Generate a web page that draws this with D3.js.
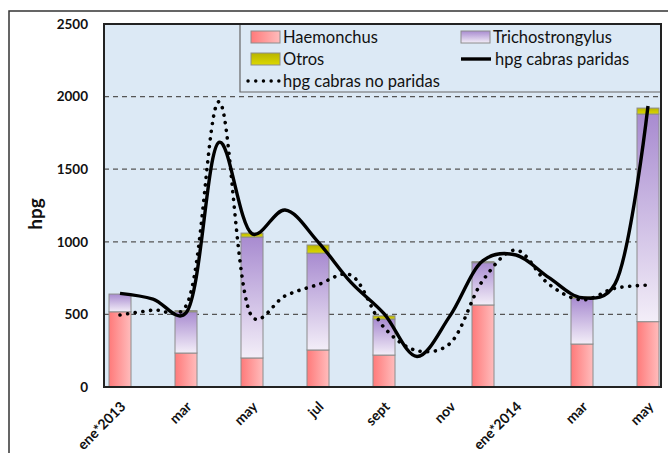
<!DOCTYPE html>
<html><head><meta charset="utf-8">
<script src="https://cdn.jsdelivr.net/npm/d3@7"></script>
<style>body{margin:0;background:#fff}svg{display:block}</style>
</head><body><svg id="c" width="668" height="453"></svg>
<script>
// ---- data ----
const slots = d3.range(17);                 // monthly positions on the category axis
const labelSlots = [0,2,4,6,8,10,12,14,16];
const xLabels = ["ene*2013","mar","may","jul","sept","nov","ene*2014","mar","may"];
const barSlots = [0,2,4,6,8,11,14,16];
const haemonchus = [518,234,200,255,220,565,296,450];
const trichostrongylus = [122,284,833,667,248,291,317,1430];
const otros = [0,8,27,56,22,7,9,41];
const paridas = [645,606,510,1685,1055,1219,1000,720,505,210,490,870,909,753,615,710,1935];
const noParidas = [496,530,558,1965,485,627,705,770,410,250,300,735,943,707,600,680,702];
const yTicks = [0,500,1000,1500,2000,2500];
const seriesNames = ["Haemonchus","Trichostrongylus","Otros","hpg cabras paridas","hpg cabras no paridas"];

// ---- layout ----
const svg = d3.select("#c");
const L = 104, R = 661, T = 24, B = 387;
const x = d3.scalePoint().domain(slots).range([120, 648]);
const y = d3.scaleLinear().domain([0,2500]).range([B, T]);
const barW = 22;
const FONT = "Lato, 'Open Sans', sans-serif";

// outer frame
svg.append("path").attr("d","M9,453 L9,11 L668,11").attr("fill","none").attr("stroke","#333").attr("stroke-width",1.5);

// gradients
const defs = svg.append("defs");
const gH = defs.append("linearGradient").attr("id","gH").attr("x1",0).attr("x2",1).attr("y1",0).attr("y2",0);
gH.append("stop").attr("offset","0%").attr("stop-color","#ff7a7a");
gH.append("stop").attr("offset","100%").attr("stop-color","#ffbcbc");
const gT = defs.append("linearGradient").attr("id","gT").attr("x1",0).attr("x2",0).attr("y1",0).attr("y2",1);
gT.append("stop").attr("offset","0%").attr("stop-color","#a88bd0");
gT.append("stop").attr("offset","100%").attr("stop-color","#f3eef8");
const gO = defs.append("linearGradient").attr("id","gO").attr("x1",0).attr("x2",0).attr("y1",0).attr("y2",1);
gO.append("stop").attr("offset","0%").attr("stop-color","#b8b400");
gO.append("stop").attr("offset","100%").attr("stop-color","#dcd800");

// plot background
svg.append("rect").attr("x",L).attr("y",T).attr("width",R-L).attr("height",B-T).attr("fill","#dce9f5");

// gridlines
svg.append("g").selectAll("line").data(yTicks.filter(v=>v>0&&v<2500)).join("line")
  .attr("x1",L).attr("x2",R).attr("y1",d=>y(d)).attr("y2",d=>y(d))
  .attr("stroke","#555").attr("stroke-width",1.2).attr("stroke-dasharray","5,4");

// stacked bars
const stackData = barSlots.map((s,i)=>({slot:s, h:haemonchus[i], t:trichostrongylus[i], o:otros[i]}));
const stack = d3.stack().keys(["h","t","o"])(stackData);
const fills = {h:"url(#gH)", t:"url(#gT)", o:"url(#gO)"};
svg.append("g").selectAll("g").data(stack).join("g")
  .attr("fill",d=>fills[d.key])
  .selectAll("rect").data(d=>d.filter(e=>e[1]-e[0]>0)).join("rect")
  .attr("x",d=>x(d.data.slot)-barW/2).attr("width",barW)
  .attr("y",d=>y(d[1])).attr("height",d=>y(d[0])-y(d[1]))
  .attr("stroke","#8c8c8c").attr("stroke-width",1);

// lines
const line = d3.line().x((d,i)=>x(slots[i])).y(d=>y(d)).curve(d3.curveCatmullRom.alpha(0.3));
svg.append("path").attr("d",line(noParidas)).attr("fill","none").attr("stroke","#000")
  .attr("stroke-width",3.6).attr("stroke-linecap","round").attr("stroke-dasharray","0.1,7.6");
svg.append("path").attr("d",line(paridas)).attr("fill","none").attr("stroke","#000")
  .attr("stroke-width",3.4).attr("stroke-linejoin","round");

// legend
const lg = svg.append("g");
lg.append("path").attr("d",`M240,${T} L240,92 L${R},92`).attr("fill","none").attr("stroke","#666").attr("stroke-width",1.2);
const legItems = [
  {name:seriesNames[0], type:"box", fill:"url(#gH)", x:251, y:37},
  {name:seriesNames[1], type:"box", fill:"url(#gT)", x:461, y:37},
  {name:seriesNames[2], type:"box", fill:"url(#gO)", x:251, y:59},
  {name:seriesNames[3], type:"solid", x:461, y:59},
  {name:seriesNames[4], type:"dot", x:248, y:81}
];
legItems.forEach(it=>{
  if(it.type==="box"){
    lg.append("rect").attr("x",it.x).attr("y",it.y-6).attr("width",29).attr("height",12)
      .attr("fill",it.fill).attr("stroke","#8c8c8c");
    lg.append("text").attr("x",it.x+32).attr("y",it.y).attr("dy","0.36em").text(it.name);
  } else if(it.type==="solid"){
    lg.append("line").attr("x1",it.x).attr("x2",it.x+30).attr("y1",it.y).attr("y2",it.y)
      .attr("stroke","#000").attr("stroke-width",3.4);
    lg.append("text").attr("x",it.x+34).attr("y",it.y).attr("dy","0.36em").text(it.name);
  } else {
    lg.append("line").attr("x1",it.x).attr("x2",it.x+32).attr("y1",it.y).attr("y2",it.y)
      .attr("stroke","#000").attr("stroke-width",3.4).attr("stroke-linecap","round").attr("stroke-dasharray","0.1,7.6");
    lg.append("text").attr("x",it.x+35).attr("y",it.y).attr("dy","0.36em").text(it.name);
  }
});
lg.selectAll("text").attr("font-family",FONT).attr("font-size",16.5).attr("fill","#111");

// plot border
svg.append("rect").attr("x",L).attr("y",T).attr("width",R-L).attr("height",B-T)
  .attr("fill","none").attr("stroke","#222").attr("stroke-width",2);

// y axis labels
svg.append("g").selectAll("text").data(yTicks).join("text")
  .attr("x",88).attr("y",d=>y(d)).attr("dy","0.36em").attr("text-anchor","end")
  .attr("font-family",FONT).attr("font-weight","bold").attr("font-size",13.5).attr("fill","#111")
  .text(d=>d);

// x axis labels
svg.append("g").selectAll("text").data(labelSlots).join("text")
  .attr("transform",d=>`translate(${x(d)+3},${404}) rotate(-45)`)
  .attr("text-anchor","end").attr("dy","0.36em")
  .attr("font-family",FONT).attr("font-weight","bold").attr("font-size",14).attr("fill","#111")
  .text((d,i)=>xLabels[i]);

// y title
svg.append("text").attr("transform","translate(42,214) rotate(-90)")
  .attr("text-anchor","middle").attr("font-family",FONT).attr("font-weight","bold")
  .attr("font-size",19).attr("fill","#111").text("hpg");
</script></body></html>
